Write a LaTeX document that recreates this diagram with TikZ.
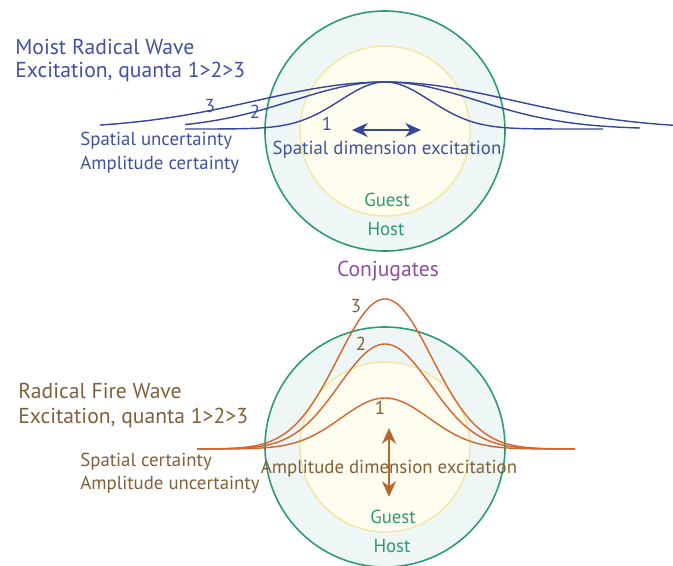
\documentclass[tikz,border=0pt]{standalone}
\usepackage{fontspec}
\setmainfont{PT Sans}
\usetikzlibrary{arrows.meta}
\definecolor{wavblue}{HTML}{34479A}
\definecolor{txtblue}{HTML}{3F51A0}
\definecolor{hostgreen}{HTML}{2C9B72}
\definecolor{ringfill}{HTML}{EFF6F6}
\definecolor{guestfill}{HTML}{FFFDF0}
\definecolor{guestline}{HTML}{F2E7A0}
\definecolor{firewave}{HTML}{D3652E}
\definecolor{firearrow}{HTML}{B8662C}
\definecolor{txtbrown}{HTML}{80603A}
\definecolor{conjpurple}{HTML}{8F4F9E}
\tikzset{
  hostring/.style={fill=ringfill,draw=hostgreen,line width=0.9pt},
  guestring/.style={fill=guestfill,draw=guestline,line width=0.8pt},
  bigtxt/.style={font=\fontsize{12.3}{14}\selectfont,anchor=west,inner sep=0pt},
  smalltxt/.style={font=\fontsize{10.7}{12}\selectfont,inner sep=0pt},
  quanta/.style={font=\fontsize{10.7}{12}\selectfont,inner sep=0pt}
}
\begin{document}
\begin{tikzpicture}[x=0.02cm,y=-0.02cm]
    \useasboundingbox (0,0) rectangle (673,565);
    % host and guest circles
    \foreach \cy in {131,447}{
      \filldraw[hostring] (385,\cy) circle (120);
      \filldraw[guestring] (385,\cy) circle (85);
    }
    % moist radical wave (spatial)
    \foreach \wid/\xa/\xb in {45/185/603,92/185/640,128/100/673}{
      \draw[wavblue,line width=0.8pt] plot[domain=\xa:\xb,samples=150]
        (\x,{129-47*exp(-0.5*((\x-385)/\wid)*((\x-385)/\wid))});
    }
    \node[quanta,text=txtblue] (qb1) at (327,124) {1};
    \node[quanta,text=txtblue] (qb2) at (255,112) {2};
    \node[quanta,text=txtblue] (qb3) at (210,106) {3};
    \coordinate (sdL) at (352,130);
    \coordinate (sdR) at (421,130);
    \draw[wavblue,line width=1.1pt,{Stealth[length=9pt,width=8pt]}-{Stealth[length=9pt,width=8pt]}] (sdL) -- (sdR);
    \node[smalltxt,text=txtblue] (sdim) at (387,150) {Spatial dimension excitation};
    \node[smalltxt,text=hostgreen] (guestA) at (387,200) {Guest};
    \node[smalltxt,text=hostgreen] (hostA) at (386,229) {Host};
    \node[bigtxt,text=txtblue] (moistA) at (15,47) {Moist Radical Wave};
    \node[bigtxt,text=txtblue] (moistB) at (15,72) {Excitation, quanta 1>2>3};
    \node[smalltxt,anchor=west,text=txtblue] (suncert) at (80,141) {Spatial uncertainty};
    \node[smalltxt,anchor=west,text=txtblue] (acert) at (80,165) {Amplitude certainty};
    \node[font=\fontsize{12.3}{14}\selectfont,inner sep=0pt,text=conjpurple] (conj) at (388,271) {Conjugates};
    % radical fire wave (amplitude)
    \foreach \amp/\wid in {51/44,105/46,150/47}{
      \draw[firewave,line width=0.8pt] plot[domain=197:575,samples=150]
        (\x,{449-\amp*exp(-0.5*((\x-385)/\wid)*((\x-385)/\wid))});
    }
    \node[quanta,text=txtbrown] (qf1) at (380,408) {1};
    \node[quanta,text=txtbrown] (qf2) at (361,344) {2};
    \node[quanta,text=txtbrown] (qf3) at (356,306) {3};
    \coordinate (adT) at (389,428);
    \coordinate (adB) at (389,497);
    \draw[firearrow,line width=1.1pt,{Stealth[length=9pt,width=8pt]}-{Stealth[length=9pt,width=8pt]}] (adT) -- (adB);
    \node[smalltxt,text=txtbrown] (adim) at (389,469) {Amplitude dimension excitation};
    \node[smalltxt,text=hostgreen] (guestB) at (393,517) {Guest};
    \node[smalltxt,text=hostgreen] (hostB) at (392,546) {Host};
    \node[bigtxt,text=txtbrown] (fireA) at (18,391) {Radical Fire Wave};
    \node[bigtxt,text=txtbrown] (fireB) at (18,418) {Excitation, quanta 1>2>3};
    \node[smalltxt,anchor=west,text=txtbrown] (scert) at (80,462) {Spatial certainty};
    \node[smalltxt,anchor=west,text=txtbrown] (auncert) at (80,485) {Amplitude uncertainty};
\end{tikzpicture}
\end{document}
